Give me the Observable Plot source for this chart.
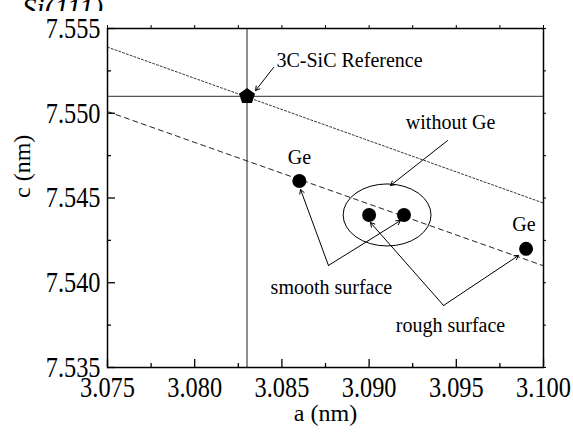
<!DOCTYPE html>
<html>
<head>
<meta charset="utf-8">
<script src="https://cdn.jsdelivr.net/npm/d3@7"></script>
<script src="https://cdn.jsdelivr.net/npm/@observablehq/plot@0.6"></script>
<style>
  body { margin: 0; background: white; }
  #wrap { position: relative; width: 573px; height: 436px; overflow: hidden; font-family: "Liberation Serif", "Times New Roman", serif; }
  #wrap svg, #wrap svg text, #wrap svg g { font-family: "Liberation Serif", "Times New Roman", serif !important; }
  #title { position: absolute; left: 22px; top: 0; height: 11px; overflow: hidden; }
  #title span { display: block; font-style: italic; font-size: 29px; line-height: 29px; margin-top: -6px; }
</style>
</head>
<body>
<div id="wrap"><div id="title"><span>Si(111)</span></div></div>
<script>
// Tick values
const aTicksMajor = [3.075, 3.080, 3.085, 3.090, 3.095, 3.100];
const aTicksMinor = [3.0775, 3.0825, 3.0875, 3.0925, 3.0975];
const cTicksMajor = [7.535, 7.540, 7.545, 7.550, 7.555];
const cTicksMinor = [7.5375, 7.5425, 7.5475, 7.5525];

// 3C-SiC reference
const refA = [3.083];
const refC = [7.551];

// Samples
const sampleA = [3.086, 3.090, 3.092, 3.099];
const sampleC = [7.546, 7.544, 7.544, 7.542];

// Guide lines
const dottedA = [3.075, 3.100];
const dottedC = [7.5539, 7.5447];
const dashedA = [3.075, 3.100];
const dashedC = [7.5501, 7.5410];

// Annotation labels (first one is left-aligned, the rest centred)
const refLabel = ["3C-SiC Reference"];
const refLabelA = [3.08469];
const refLabelC = [7.55311];
const labelText = ["without Ge", "Ge", "Ge", "smooth surface", "rough surface"];
const labelA = [3.09467, 3.0860, 3.09888, 3.08784, 3.09467];
const labelC = [7.54945, 7.54739, 7.54344, 7.53972, 7.53748];

// Annotation arrows
const arrowA1 = [3.08452, 3.09450, 3.08767, 3.08767, 3.09427, 3.09427];
const arrowC1 = [7.55270, 7.54839, 7.54102, 7.54102, 7.53866, 7.53866];
const arrowA2 = [3.08349, 3.09123, 3.08607, 3.09180, 3.09008, 3.09857];
const arrowC2 = [7.55134, 7.54574, 7.54550, 7.54367, 7.54355, 7.54161];

// Ellipse grouping "without Ge" samples (center and half-extents, data units)
const ellipseA = [3.09106];
const ellipseC = [7.54397];
const ellipseRA = [0.00252];
const ellipseRC = [0.00183];

const W = 573, H = 436;
const mT = 28, mB = 69, mL = 107, mR = 30;
const iW = W - mL - mR, iH = H - mT - mB;

const pentagon = {
  draw(context, size) {
    const r = Math.sqrt(size / Math.PI) * 1.05;
    for (let i = 0; i < 5; i++) {
      const t = -Math.PI / 2 + i * 2 * Math.PI / 5;
      const x = r * Math.cos(t), y = r * Math.sin(t);
      if (i === 0) context.moveTo(x, y); else context.lineTo(x, y);
    }
    context.closePath();
  }
};

const ellipseMark = (index, scales) => {
  const g = d3.create("svg:g");
  ellipseA.forEach((a, i) => {
    const cx = scales.x(a), cy = scales.y(ellipseC[i]);
    g.append("ellipse")
      .attr("cx", cx).attr("cy", cy)
      .attr("rx", Math.abs(scales.x(a + ellipseRA[i]) - cx))
      .attr("ry", Math.abs(scales.y(ellipseC[i] + ellipseRC[i]) - cy))
      .attr("fill", "none").attr("stroke", "black").attr("stroke-width", 1);
  });
  return g.node();
};

const idx = labelText.map((d, i) => i);
const aidx = arrowA1.map((d, i) => i);

const chart = Plot.plot({
  width: W, height: H,
  marginTop: mT, marginBottom: mB, marginLeft: mL, marginRight: mR,
  style: { background: "white", color: "black", overflow: "visible" },
  x: { domain: [3.075, 3.100], axis: null },
  y: { domain: [7.535, 7.555], axis: null },
  marks: [
    Plot.ruleX(refA, { x: d => d, stroke: "#555", strokeWidth: 1.3 }),
    Plot.ruleY(refC, { y: d => d, stroke: "#555", strokeWidth: 1.3 }),
    Plot.line(dottedA, { x: dottedA, y: dottedC, stroke: "#333", strokeWidth: 1, strokeDasharray: "2,2", clip: true }),
    Plot.line(dashedA, { x: dashedA, y: dashedC, stroke: "#222", strokeWidth: 1, strokeDasharray: "5,4", clip: true }),
    ellipseMark,
    Plot.arrow(aidx, { x1: i => arrowA1[i], y1: i => arrowC1[i], x2: i => arrowA2[i], y2: i => arrowC2[i], stroke: "black", strokeWidth: 1, headLength: 7 }),
    Plot.dot(sampleA, { x: sampleA, y: sampleC, r: 7, fill: "black", stroke: "none" }),
    Plot.dot(refA, { x: refA, y: refC, r: 8, symbol: pentagon, fill: "black", stroke: "none" }),
    Plot.text(refLabel, { x: refLabelA, y: refLabelC, text: d => d, textAnchor: "start", fontSize: 20, fill: "black" }),
    Plot.text(idx, { x: i => labelA[i], y: i => labelC[i], text: i => labelText[i], textAnchor: "middle", fontSize: 20, fill: "black" }),
    // inward ticks bottom / left
    Plot.ruleX(aTicksMajor, { x: d => d, insetTop: iH - 8, stroke: "black", strokeWidth: 1.3 }),
    Plot.ruleX(aTicksMinor, { x: d => d, insetTop: iH - 4, stroke: "black", strokeWidth: 1.3 }),
    Plot.ruleY(cTicksMajor, { y: d => d, insetRight: iW - 8, stroke: "black", strokeWidth: 1.3 }),
    Plot.ruleY(cTicksMinor, { y: d => d, insetRight: iW - 4, stroke: "black", strokeWidth: 1.3 }),
    // tiny outward ticks top / right
    Plot.ruleX([...aTicksMajor, ...aTicksMinor], { x: d => d, insetTop: -3, insetBottom: iH, stroke: "black", strokeWidth: 1 }),
    Plot.ruleY([...cTicksMajor, ...cTicksMinor], { y: d => d, insetLeft: iW, insetRight: -3, stroke: "black", strokeWidth: 1 }),
    Plot.frame({ stroke: "black", strokeWidth: 1.5 }),
    Plot.axisX(aTicksMajor, { anchor: "bottom", tickSize: 0, tickPadding: 9, tickFormat: d3.format(".3f"), fontSize: 29, label: null }),
    Plot.axisY(cTicksMajor, { anchor: "left", tickSize: 0, tickPadding: 7, tickFormat: d3.format(".3f"), fontSize: 29, label: null }),
    Plot.text(["a (nm)"], { frameAnchor: "bottom", dy: 53, text: d => d, fontSize: 24, fill: "black" }),
    Plot.text(["c (nm)"], { frameAnchor: "left", dx: -85, rotate: -90, text: d => d, fontSize: 24, fill: "black" })
  ]
});

document.getElementById("wrap").appendChild(chart);

// condense tick labels horizontally like the original typesetting
chart.querySelectorAll('g[aria-label="x-axis tick label"] text, g[aria-label="y-axis tick label"] text').forEach(t => {
  const w = t.getComputedTextLength();
  t.setAttribute("textLength", (w * 0.84).toFixed(2));
  t.setAttribute("lengthAdjust", "spacingAndGlyphs");
});
</script>
</body>
</html>
